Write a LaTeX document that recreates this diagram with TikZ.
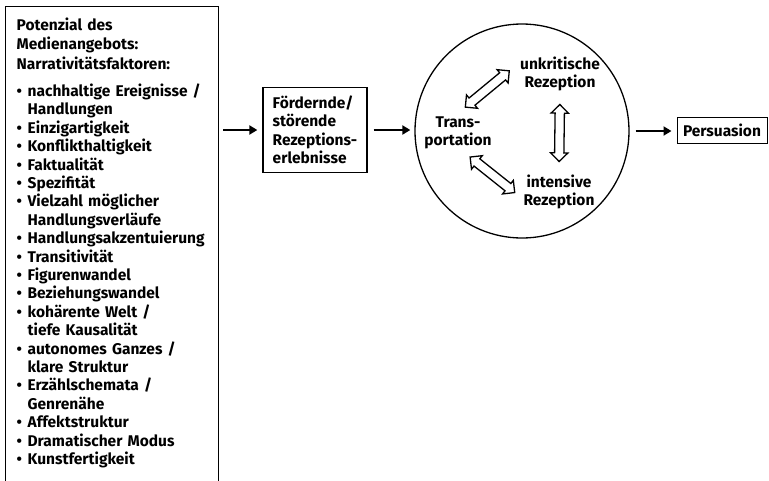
\documentclass[tikz,border=0pt]{standalone}
\usepackage{fontspec}
\setmainfont{Fira Sans}
\usetikzlibrary{arrows.meta,shapes.arrows}

\newcommand{\bul}{\makebox[11pt][l]{\textbullet}}
\newcommand{\ind}{\hspace*{11pt}}

\tikzset{
    box/.style={draw, line width=1.3pt, align=left},
    arr/.style={line width=2pt, -{Triangle[length=8pt,width=9pt]}},
    dblarr/.style={double arrow, draw, line width=1.3pt, inner xsep=0pt, inner ysep=4pt,
        minimum height=57pt, double arrow head extend=4pt, double arrow tip angle=90}
}

\begin{document}
\begin{tikzpicture}[x=1pt, y=-1pt, font=\fontsize{15.5}{18.4}\selectfont\bfseries]
        \useasboundingbox (0,0) rectangle (769,480);

        % Potenzial des Medienangebots
        \node[box, anchor=north west, text width=191pt, inner sep=11pt] (factors) at (5,6) {%
            Potenzial des\\[1pt]
            Medienangebots:\\[1pt]
            Narrativitätsfaktoren:\\[9pt]
            \bul nachhaltige Ereignisse /\\
            \ind Handlungen\\
            \bul Einzigartigkeit\\
            \bul Konflikthaltigkeit\\
            \bul Faktualität\\
            \bul Spezifität\\
            \bul Vielzahl möglicher\\
            \ind Handlungsverläufe\\
            \bul Handlungsakzentuierung\\
            \bul Transitivität\\
            \bul Figurenwandel\\
            \bul Beziehungswandel\\
            \bul kohärente Welt /\\
            \ind tiefe Kausalität\\
            \bul autonomes Ganzes /\\
            \ind klare Struktur\\
            \bul Erzählschemata /\\
            \ind Genrenähe\\
            \bul Affektstruktur\\
            \bul Dramatischer Modus\\
            \bul Kunstfertigkeit\rule[-40pt]{0pt}{0pt}};

        % Rezeptionserlebnisse
        \node[box, minimum width=104pt, minimum height=85pt] (rez) at (315,130)
            {Fördernde/\\störende\\Rezeptions-\\erlebnisse};

        % Kreis
        \node[draw, circle, line width=1.3pt, minimum size=214pt] (circ) at (522,131) {};
        \node[align=center] (unkrit) at (560,74) {unkritische\\Rezeption};
        \node[align=center] (trans) at (458,133) {Trans-\\portation};
        \node[align=center] (intens) at (559,192) {intensive\\Rezeption};

        % Persuasion
        \node[box, line width=1pt, minimum width=90pt, minimum height=26pt, inner sep=2pt] (pers) at (722,130) {Persuasion};

        % Connections
        \draw[arr, shorten <=4pt, shorten >=5pt] (factors.east |- rez.west) -- (rez.west);
        \draw[arr, shorten <=6pt, shorten >=4pt] (rez.east) -- (rez.east -| circ.west);
        \draw[arr, shorten <=6pt, shorten >=5pt] (circ.east) -- (circ.east -| pers.west);

        \path (trans.north) -- (unkrit.168) node[midway, sloped, dblarr] {};
        \path (trans.-71) -- (intens.187) node[midway, sloped, dblarr] {};
        \path (unkrit.south) -- (intens.north) node[midway, sloped, dblarr] {};
    \end{tikzpicture}
\end{document}
